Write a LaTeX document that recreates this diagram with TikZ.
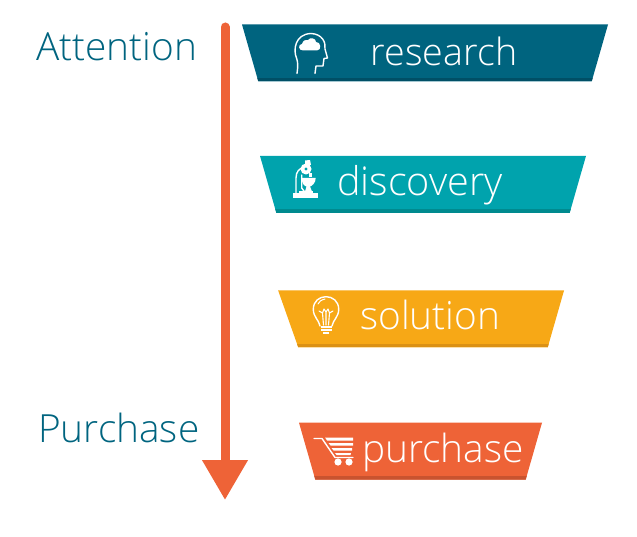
\documentclass[tikz,border=0pt]{standalone}
\usepackage{fontspec}
\setmainfont{Open Sans Light}
\usetikzlibrary{shapes.geometric, positioning, arrows.meta}
\definecolor{petrol}{HTML}{00647F}
\definecolor{petroldark}{HTML}{004F66}
\definecolor{teal}{HTML}{00A3AD}
\definecolor{tealdark}{HTML}{008A8F}
\definecolor{amber}{HTML}{F7A816}
\definecolor{amberdark}{HTML}{DB9114}
\definecolor{coral}{HTML}{EE6337}
\definecolor{coraldark}{HTML}{C9532F}
\tikzset{
    funnel/.style 2 args={trapezium, trapezium stretches body=true, shape border rotate=180,
        trapezium left angle=74, trapezium right angle=74, inner sep=0pt,
        fill=#1, path picture={\fill[#2] ([yshift=3.5pt]path picture bounding box.south west) rectangle (path picture bounding box.south east);}},
    steplabel/.style={anchor=base west, text=white, inner sep=0pt, font=\fontsize{38.8}{38.8}\selectfont},
    sidelabel/.style={anchor=base west, text=petrol, inner sep=0pt, font=\fontsize{38.8}{38.8}\selectfont},
    iconline/.style={draw=white, line width=1.4pt, line join=round, line cap=round},
    iconfill/.style={fill=white}
}
\newcommand{\funnelbody}{\phantom{\rule{1pt}{57pt}}}
\begin{document}
\begin{tikzpicture}[x=1pt, y=-1pt]
    \useasboundingbox (0,0) rectangle (637,537);

    \node[funnel={petrol}{petroldark}, minimum width=366pt] (research) at (425,53) {\funnelbody};
    \node[funnel={teal}{tealdark}, minimum width=326pt, below=74pt of research, xshift=-2pt] (discovery) {\funnelbody};
    \node[funnel={amber}{amberdark}, minimum width=286pt, trapezium right angle=70.5, below=77pt of discovery] (solution) {\funnelbody};
    \node[funnel={coral}{coraldark}, minimum width=243pt, below=75pt of solution, xshift=-2.5pt] (purchase) {\funnelbody};

    \node[steplabel, font=\fontsize{37.6}{37.6}\selectfont] (research label) at (370.5,66) {research};
    \node[steplabel, font=\fontsize{39.6}{39.6}\selectfont] (discovery label) at (337,196) {discovery};
    \node[steplabel] (solution label) at (360,329) {solution};
    \node[steplabel] (purchase label) at (362,462) {purchase};

    \node[sidelabel] (attention side) at (36,61) {Attention};
    \node[sidelabel] (purchase side) at (38,442) {Purchase};

    % arrow
    \coordinate (arrow start) at (225,27);
    \coordinate (arrow end) at (225,500);
    \draw[coral, line width=9pt, line cap=round, -{Triangle[width=43.5pt, length=40pt]}] (arrow start) -- (arrow end);

    % head icon
    \draw[iconline] (297,73.5) .. controls (298,66) and (298,62) .. (296.5,58)
        .. controls (293,50) and (295,34) .. (311,33.5)
        .. controls (322,34) and (326,42) .. (325,49)
        -- (327.5,58) -- (324,58.5) -- (323,66) -- (316,66) -- (315,73.5);
    \fill[iconfill] (303,50.5) .. controls (298,50.5) and (298,44) .. (302,44)
        .. controls (303,40) and (306,39.5) .. (308,40)
        .. controls (310,37) and (316,38) .. (316,42)
        .. controls (321,41.5) and (322,50.5) .. (317,50.5) -- cycle;

    % microscope icon
    \fill[iconfill] (293.3,193.3) rectangle (318.3,198.3);
    \fill[iconfill] (299,191.5) rectangle (313,193.3);
    \draw[iconline] (296,193) -- (296,178) .. controls (296,172) and (299,168) .. (305,167);
    \draw[iconline] (301.7,175) -- (301.7,188) -- (304,191);
    \fill[iconfill] (306,169) circle (5.5pt);
    \fill[teal] (306,169) circle (1.6pt);
    \fill[iconfill] (305,160.5) -- (310,160) -- (311,165) -- (305,165) -- cycle;
    \fill[iconfill] (309,173) rectangle (312,177);
    \fill[iconfill] (301.7,178) -- (315.7,178) .. controls (315.7,183) and (312,186) .. (310,186.5)
        -- (312,191.5) -- (305,191.5) -- (306.5,186.5) .. controls (304,186) and (301.7,183) .. (301.7,178) -- cycle;

    % bulb icon
    \draw[iconline] (320,326) .. controls (319,320) and (313.3,317) .. (313.3,309.3)
        .. controls (313.3,292.5) and (338.7,292.5) .. (338.7,309.3)
        .. controls (338.7,317) and (333,320) .. (332,326);
    \draw[iconline, line width=1pt] (318,304) .. controls (319,301.5) and (321,300) .. (325,299);
    \draw[iconline, line width=1.1pt] (323.5,325) -- (322.5,313) -- (319,311) (322.5,313) -- (324,309) -- (326,312)
        -- (328,309) -- (329.5,313) -- (333,311) (329.5,313) -- (328.5,325) (326,312) -- (326,325);
    \fill[iconfill] (320.5,326) rectangle (331.5,328);
    \fill[iconfill] (320.5,329) rectangle (331.5,331);
    \fill[iconfill] (323,331.5) rectangle (329,333.5);

    % cart icon
    \draw[iconline] (314,438.5) -- (322,438.5) -- (335,457.5) -- (353,457.5);
    \fill[iconfill] (325,437.5) -- (353,437.5) -- (353,440.5) -- (327,440.5) -- cycle;
    \fill[iconfill] (328.5,443) -- (353,443) -- (353,445.5) -- (330.5,445.5) -- cycle;
    \fill[iconfill] (331.5,448) -- (352,448) -- (352,450.5) -- (333.5,450.5) -- cycle;
    \fill[iconfill] (335,453) -- (351,453) -- (350.5,455) -- (336.5,455) -- cycle;
    \fill[iconfill] (338,462) circle (3.6pt);
    \fill[iconfill] (349,462) circle (3.6pt);
\end{tikzpicture}
\end{document}
